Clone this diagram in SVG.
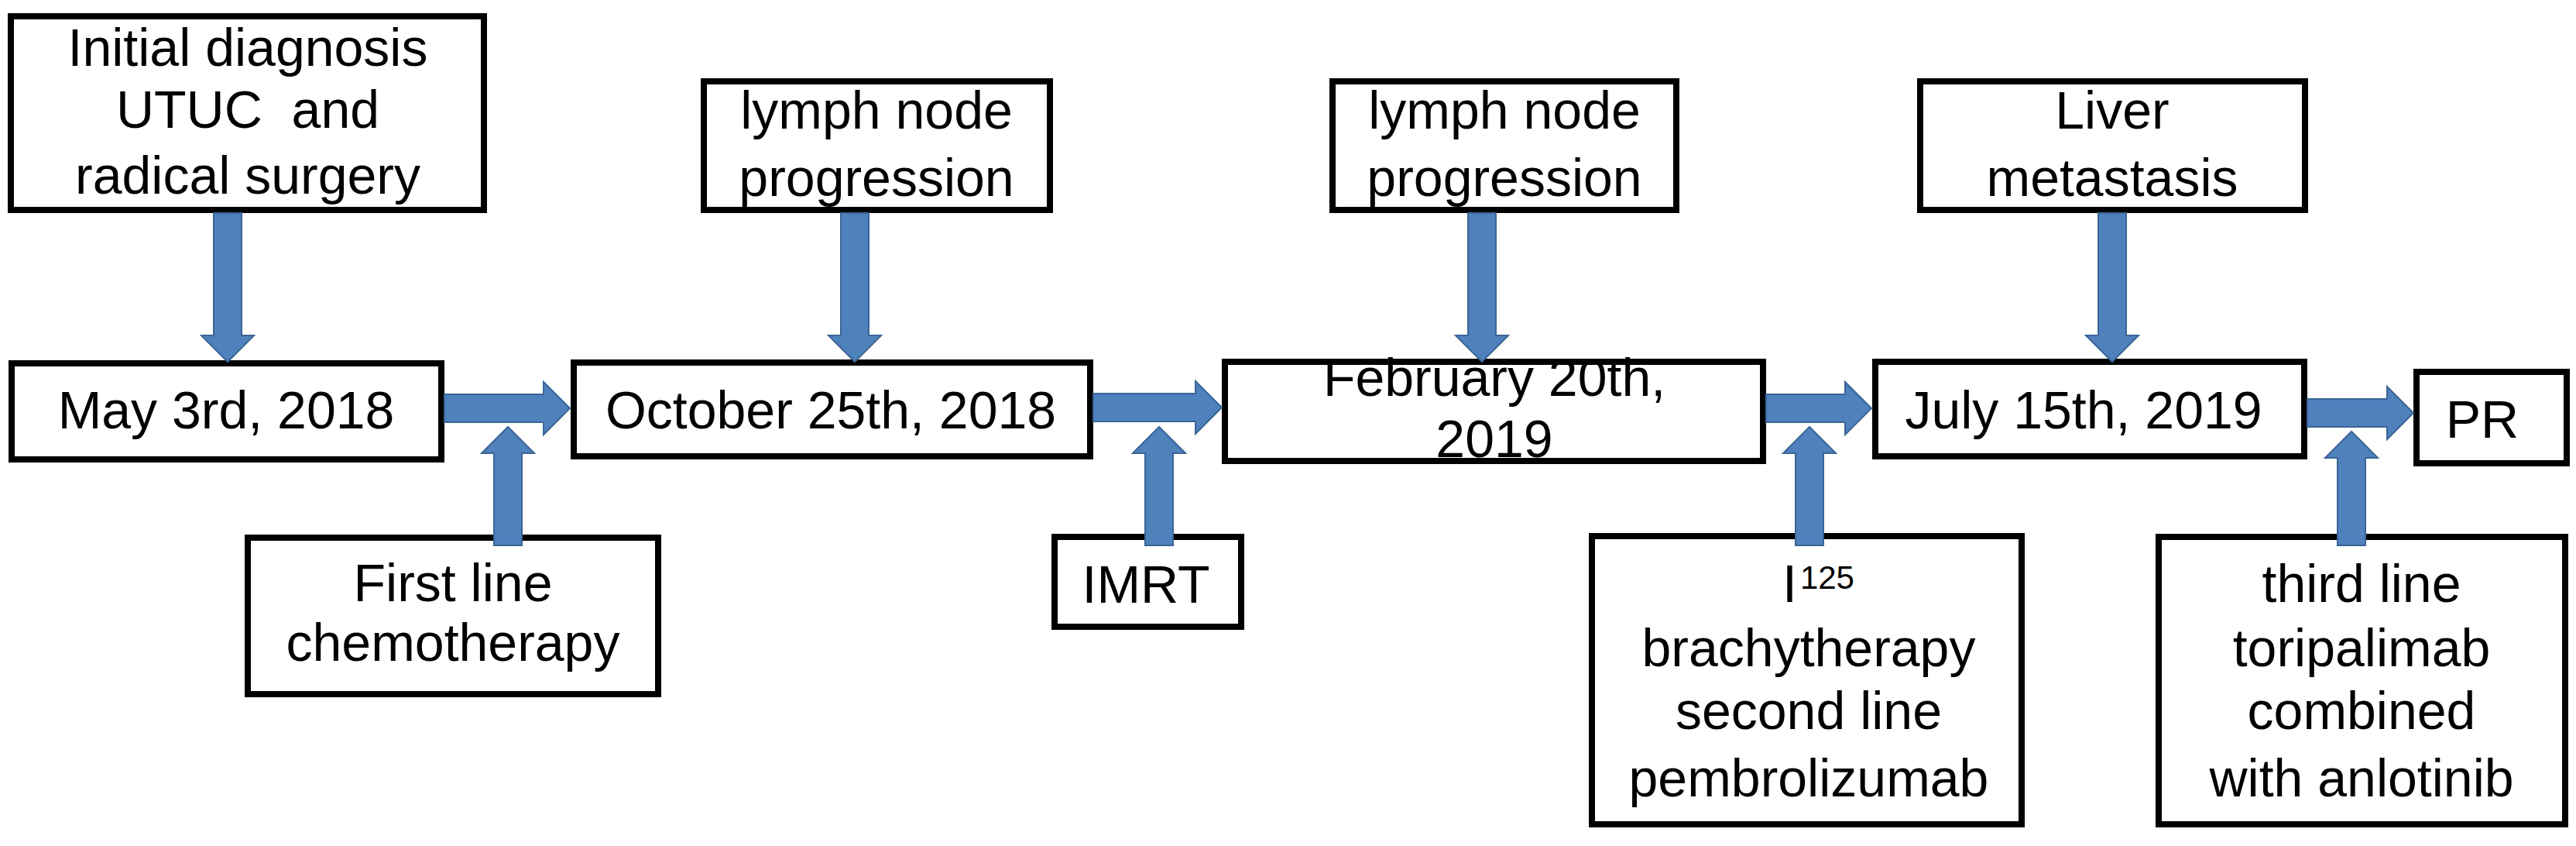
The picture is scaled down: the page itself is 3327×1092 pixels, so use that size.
<svg xmlns="http://www.w3.org/2000/svg" width="3327" height="1092" viewBox="0 0 3327 1092">
<style>
.box{fill:#ffffff;stroke:#000000;stroke-width:8}
.edge{fill:none;stroke:#000000;stroke-width:8}
.t{font-family:"Liberation Sans",Arial,sans-serif;font-size:68px;fill:#000000;text-anchor:middle}
.arr{fill:#4f81bd;stroke:#3a6595;stroke-width:2;stroke-linejoin:miter}
</style>
<rect x="0" y="0" width="3327" height="1092" fill="#ffffff"/>
<g id="nodes">
<g id="initial">
<rect class="box" x="14" y="21" width="611" height="250"/>
<text class="t" x="320" y="85">Initial diagnosis</text>
<text class="t" x="320" y="165" xml:space="preserve">UTUC  and</text>
<text class="t" x="320" y="250">radical surgery</text>
</g>
<g id="may">
<rect class="box" x="15" y="469" width="555" height="124"/>
<text class="t" x="292" y="553">May 3rd, 2018</text>
</g>
<g id="october">
<rect class="box" x="741" y="468" width="667" height="121"/>
<text class="t" x="1073" y="553">October 25th, 2018</text>
</g>
<g id="february">
<rect x="1582" y="467" width="695" height="128" fill="#ffffff"/>
<text class="t" x="1930" y="511">February 20th,</text>
<text class="t" x="1930" y="590">2019</text>
<rect class="edge" x="1582" y="467" width="695" height="128"/>
</g>
<g id="july">
<rect class="box" x="2422" y="467" width="554" height="122"/>
<text class="t" x="2691" y="553">July 15th, 2019</text>
</g>
<g id="pr">
<rect class="box" x="3121" y="480" width="194" height="118"/>
<text class="t" x="3206" y="565">PR</text>
</g>
<g id="lymph1">
<rect class="box" x="909" y="105" width="447" height="166"/>
<text class="t" x="1132" y="166">lymph node</text>
<text class="t" x="1132" y="253">progression</text>
</g>
<g id="lymph2">
<rect class="box" x="1721" y="105" width="444" height="166"/>
<text class="t" x="1943" y="166">lymph node</text>
<text class="t" x="1943" y="253">progression</text>
</g>
<g id="liver">
<rect class="box" x="2480" y="105" width="497" height="166"/>
<text class="t" x="2728" y="166">Liver</text>
<text class="t" x="2728" y="253">metastasis</text>
</g>
<g id="firstline">
<rect class="box" x="320" y="694" width="530" height="202"/>
<text class="t" x="585" y="776">First line</text>
<text class="t" x="585" y="853">chemotherapy</text>
</g>
<g id="imrt">
<rect class="box" x="1362" y="693" width="241" height="116"/>
<text class="t" x="1480" y="778">IMRT</text>
</g>
<g id="i125">
<rect class="box" x="2056" y="692" width="555" height="372"/>
<text class="t" x="2302" y="777" style="text-anchor:start">I<tspan font-size="42" dx="4" dy="-17">125</tspan></text>
<text class="t" x="2336" y="860">brachytherapy</text>
<text class="t" x="2336" y="941">second line</text>
<text class="t" x="2336" y="1028">pembrolizumab</text>
</g>
<g id="thirdline">
<rect class="box" x="2788" y="693" width="525" height="371"/>
<text class="t" x="3050" y="777">third line</text>
<text class="t" x="3050" y="860">toripalimab</text>
<text class="t" x="3050" y="941">combined</text>
<text class="t" x="3050" y="1028">with anlotinib</text>
</g>
</g>
<g id="connectors">
<polygon class="arr" points="276,275 312,275 312,433 328,433 294,467 260,433 276,433"/>
<polygon class="arr" points="1086,275 1122,275 1122,433 1138,433 1104,467 1070,433 1086,433"/>
<polygon class="arr" points="1896,275 1932,275 1932,433 1948,433 1914,467 1880,433 1896,433"/>
<polygon class="arr" points="2710,275 2746,275 2746,433 2762,433 2728,467 2694,433 2710,433"/>
<polygon class="arr" points="574,509 702,509 702,493 736,527 702,561 702,545 574,545"/>
<polygon class="arr" points="1412,508 1544,508 1544,492 1578,526 1544,560 1544,544 1412,544"/>
<polygon class="arr" points="2281,509 2383,509 2383,493 2417,527 2383,561 2383,545 2281,545"/>
<polygon class="arr" points="2980,515 3083,515 3083,499 3117,533 3083,567 3083,551 2980,551"/>
<polygon class="arr" points="638,704 674,704 674,585 690,585 656,551 622,585 638,585"/>
<polygon class="arr" points="1479,704 1515,704 1515,585 1531,585 1497,551 1463,585 1479,585"/>
<polygon class="arr" points="2319,704 2355,704 2355,585 2371,585 2337,551 2303,585 2319,585"/>
<polygon class="arr" points="3019,704 3055,704 3055,591 3071,591 3037,557 3003,591 3019,591"/>
</g>
</svg>
